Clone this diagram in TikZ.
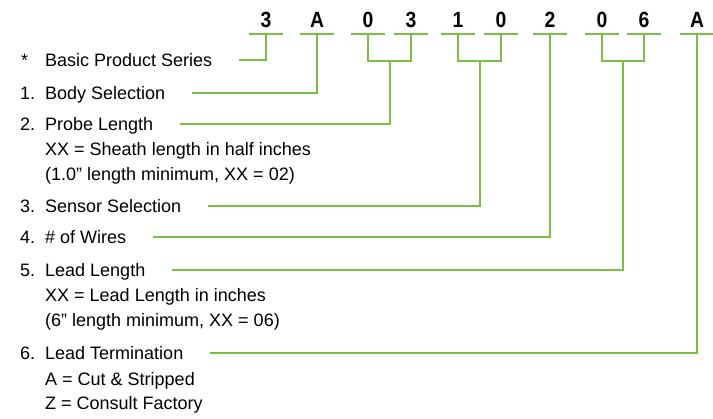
\documentclass[tikz,border=0pt]{standalone}
\usepackage{fontspec}
\setmainfont{Liberation Sans}
\newfontfamily\codefont{Liberation Sans}[FakeStretch=0.88]
\usepackage{xcolor}
\usepackage{tikz}
\usetikzlibrary{positioning, calc}

\definecolor{codegreen}{RGB}{122,190,70}

\begin{document}
\begin{tikzpicture}[
  x=1pt, y=-1pt,
  digit/.style = {font=\codefont\fontsize{22}{22}\selectfont\bfseries, anchor=base,
                  minimum width=34pt, inner sep=0pt,
                  text height=15pt, text depth=6pt},
  lbl/.style   = {font=\fontsize{18}{18}\selectfont, anchor=base west,
                  inner sep=0pt, text height=13pt, text depth=0pt},
  num/.style   = {font=\fontsize{18}{18}\selectfont, anchor=base west,
                  inner sep=0pt},
  note/.style  = {font=\fontsize{18}{18}\selectfont, anchor=base west,
                  inner sep=0pt},
  wire/.style  = {draw=codegreen, line width=2pt},
  lead/.style  = {wire, shorten <=27pt},
]

\useasboundingbox (0,0) rectangle (713,419);

%% Code digits
\foreach \x/\c [count=\i] in {266/3, 317/A, 368/0, 411/3, 458/1,
                              501/0, 550/2, 602/0, 644/6, 697/A}
  \node[digit] (c\i) at (\x, 28) {\c};
\foreach \i in {1,...,10}
  \draw[wire] (c\i.south west) -- (c\i.south east);

%% Labels
\node[num] (nseries)   at (21, 67)  {*};
\node[lbl] (series)    at (45, 67)  {Basic Product Series};
\node[num] (nbody)     at (20, 100) {1.};
\node[lbl] (body)      at (45, 100) {Body Selection};
\node[num] (nprobe)    at (20, 131) {2.};
\node[lbl] (probe)     at (45, 131) {Probe Length};
\node[note] (probe1)   at (45, 156) {XX = Sheath length in half inches};
\node[note] (probe2)   at (45, 181) {(1.0” length minimum, XX = 02)};
\node[num] (nsensor)   at (20, 213) {3.};
\node[lbl] (sensor)    at (45, 213) {Sensor Selection};
\node[num] (nwires)    at (20, 244) {4.};
\node[lbl] (wires)     at (45, 244) {\# of Wires};
\node[num] (nleadlen)  at (20, 277) {5.};
\node[lbl] (leadlen)   at (45, 277) {Lead Length};
\node[note] (leadlen1) at (45, 302) {XX = Lead Length in inches};
\node[note] (leadlen2) at (45, 327) {(6” length minimum, XX = 06)};
\node[num] (nleadterm) at (20, 360) {6.};
\node[lbl] (leadterm)  at (45, 360) {Lead Termination};
\node[note] (leadterm1) at (45, 386) {A = Cut \& Stripped};
\node[note] (leadterm2) at (45, 410) {Z = Consult Factory};

%% Bracket joints
\coordinate (j34) at ($(c3.south)!0.5!(c4.south) + (0,27)$);
\coordinate (j56) at ($(c5.south)!0.5!(c6.south) + (0,27)$);
\coordinate (j89) at ($(c8.south)!0.5!(c9.south) + (0,27)$);

\draw[wire] (c3.south) |- (j34) -| (c4.south);
\draw[wire] (c5.south) |- (j56) -| (c6.south);
\draw[wire] (c8.south) |- (j89) -| (c9.south);

%% Leads
\draw[lead] (series.east)   -| (c1.south);
\draw[lead] (body.east)     -| (c2.south);
\draw[lead] (probe.east)    -| (j34);
\draw[lead] (sensor.east)   -| (j56);
\draw[lead] (wires.east)    -| (c7.south);
\draw[lead] (leadlen.east)  -| (j89);
\draw[lead] (leadterm.east) -| (c10.south);

\end{tikzpicture}
\end{document}
